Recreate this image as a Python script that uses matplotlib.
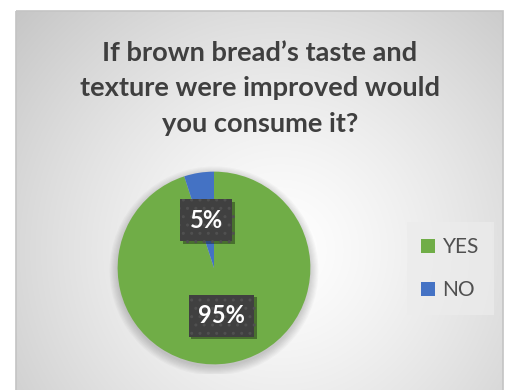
import numpy as np
import matplotlib
matplotlib.use('Agg')
import matplotlib.pyplot as plt
from matplotlib.patches import Rectangle, Circle
import matplotlib.patheffects as pe

# data
labels = ['YES', 'NO']
values = [95, 5]
colors = ['#70ad47', '#4472c4']
title_lines = ['If brown bread\u2019s taste and',
               'texture were improved would',
               'you consume it?']

W, H = 509, 390
fig = plt.figure(figsize=(W / 100, H / 100), dpi=100)

# background: radial grey gradient inside the chart frame
bg = fig.add_axes([0, 0, 1, 1], zorder=-10)
bg.set_xlim(0, W)
bg.set_ylim(H, 0)
bg.axis('off')
yy, xx = np.mgrid[0:H, 0:W]
d = np.hypot(xx - 280, yy - 250) / 352
v = 1 - 0.22 * np.clip(d, 0, 1.2) ** 1.3
img = np.dstack([v, v, v])
im = bg.imshow(img, extent=(0, W, H, 0), interpolation='bilinear')
frame = Rectangle((16, 11), 487, 390, fc='none', ec='#c4c4c4', lw=1.2)
bg.add_patch(frame)
im.set_clip_path(frame)

# title
ys = [60.7, 95.5, 131.5]
for line, y in zip(title_lines, ys):
    fig.text(260 / W, 1 - y / H, line, ha='center', va='baseline',
             fontsize=19.6, fontweight='bold', color='#3f3f3f', family='Lato')

# pie
ax = fig.add_axes([(214 - 106) / W, (H - 268 - 106) / H, 212 / W, 212 / H])
for i in range(8):
    ax.add_patch(Circle((0.0, -0.03), 1.0 + 0.012 * i, color='k',
                        alpha=0.025, lw=0, zorder=0))
wedges, texts, autotexts = ax.pie(values, colors=colors, startangle=90,
                                  counterclock=False, radius=1,
                                  autopct='%1.0f%%', pctdistance=0.5,
                                  wedgeprops=dict(lw=0, zorder=2))
ax.set_xlim(-1.1, 1.1)
ax.set_ylim(-1.1, 1.1)

for t in autotexts:
    t.set_color('white')
    t.set_fontsize(17)
    t.set_fontweight('bold')
    t.set_family('Lato')
    t.set_zorder(5)
    t.set_bbox(dict(boxstyle='square,pad=0.4', fc='#404040', ec='#505050',
                    lw=0, hatch='..'))
    t.get_bbox_patch().set_path_effects([
        pe.withSimplePatchShadow(offset=(2, -2), shadow_rgbFace='k', alpha=0.35),
        pe.Normal()])

# legend
leg = fig.legend(wedges, labels, loc='center',
                 bbox_to_anchor=(450 / W, 1 - 268.5 / H),
                 prop=dict(family='Lato', size=15),
                 frameon=True, facecolor='#ececec', edgecolor='none',
                 framealpha=0.7, fancybox=False,
                 handlelength=0.68, handleheight=0.68, handletextpad=0.35,
                 labelspacing=1.1, borderpad=0.7)
for t in leg.get_texts():
    t.set_color('#505050')

fig.savefig('out.png', dpi=100)
